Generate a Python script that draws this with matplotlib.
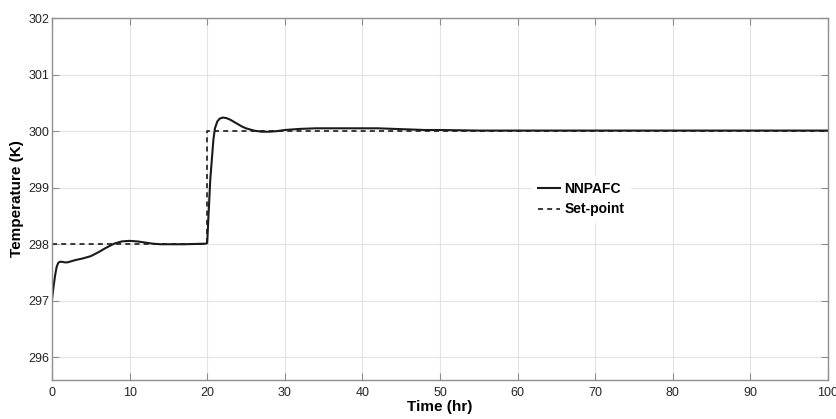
import matplotlib
matplotlib.use("Agg")
from matplotlib import pyplot as plt

plt.rcParams['font.family'] = ['Liberation Sans', 'DejaVu Sans']

# Data
time_hr = [0, 0.2, 0.4, 0.6, 0.8, 1.0, 1.3, 1.6, 2.0, 2.5, 3, 4, 5, 6, 7, 8, 9, 10,
           11, 12, 13, 14, 15, 17, 19.8, 20.0, 20.2, 20.4, 20.6, 20.8, 21.0, 21.3,
           21.6, 22.0, 22.5, 23, 23.5, 24, 24.5, 25, 25.5, 26, 26.5, 27, 27.5, 28,
           29, 30, 31, 32, 34, 36, 38, 40, 42, 44, 46, 48, 50, 55, 60, 70, 80, 90, 100]
nnpafc = [297.02, 297.25, 297.45, 297.6, 297.67, 297.69, 297.69, 297.68, 297.68,
          297.70, 297.72, 297.75, 297.79, 297.86, 297.94, 298.01, 298.05, 298.06,
          298.05, 298.03, 298.01, 298.0, 298.0, 298.0, 298.01, 298.02, 298.6,
          299.15, 299.5, 299.85, 300.05, 300.17, 300.22, 300.24, 300.23, 300.2,
          300.16, 300.12, 300.08, 300.05, 300.03, 300.01, 300.0, 299.99, 299.99,
          299.99, 300.0, 300.02, 300.03, 300.04, 300.05, 300.05, 300.05, 300.05,
          300.05, 300.04, 300.03, 300.02, 300.02, 300.01, 300.01, 300.01, 300.01,
          300.01, 300.01]
sp_time = [0, 20, 20, 100]
set_point = [298, 298, 300, 300]

fig = plt.figure(figsize=(8.36, 4.19), dpi=100)
ax = fig.add_axes([0.0622, 0.0931, 0.9282, 0.8639])

ax.plot(time_hr, nnpafc, color='#1a1a1a', lw=1.5, label='NNPAFC')
ax.plot(sp_time, set_point, color='#1a1a1a', lw=1.2, linestyle=(0, (3, 2.5)),
        label='Set-point')

ax.set_xlim(0, 100)
ax.set_ylim(295.6, 302)
ax.set_xticks(range(0, 101, 10))
ax.set_yticks(range(296, 303))

ax.grid(True, color='#e3e3e3', lw=0.8)
ax.set_axisbelow(True)
for s in ax.spines.values():
    s.set_color('#8f8f8f')
    s.set_linewidth(1.0)
ax.tick_params(direction='in', length=5, width=0.8, color='#8f8f8f',
               top=True, right=True, labelsize=9, labelcolor='#262626')
ax.tick_params(axis='y', pad=2)
ax.tick_params(axis='x', pad=5)

ax.set_xlabel('Time (hr)', fontsize=11, fontweight='bold', labelpad=1)
ax.set_ylabel('Temperature (K)', fontsize=11, fontweight='bold', labelpad=3)

leg = fig.legend(loc='center', bbox_to_anchor=(0.695, 0.525), frameon=True,
                 prop={'weight': 'bold', 'size': 10}, handlelength=1.6,
                 handletextpad=0.3, labelspacing=0.5, borderpad=0.4)
leg.get_frame().set_edgecolor('white')
leg.get_frame().set_facecolor('white')
leg.get_frame().set_alpha(1)

fig.savefig('out.png', dpi=100)
